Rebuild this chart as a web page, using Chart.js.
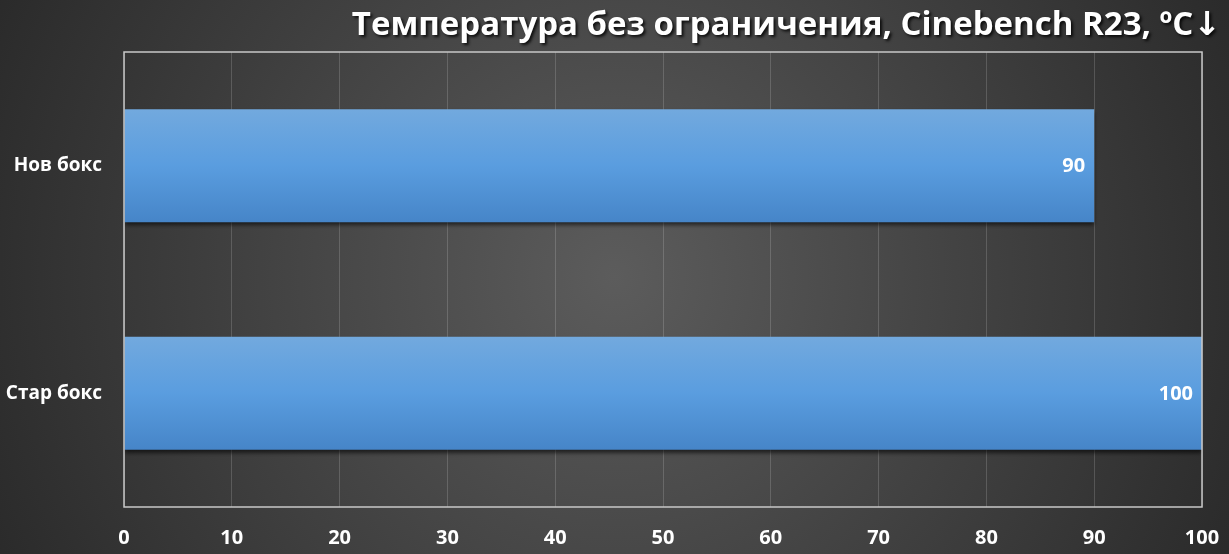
<!DOCTYPE html>
<html><head><meta charset="utf-8">
<script src="https://cdn.jsdelivr.net/npm/chart.js@4.4.0/dist/chart.umd.min.js"></script>
<style>html,body{margin:0;padding:0;background:#2a2a2a;}#wrap{width:1229px;height:554px;}</style>
</head><body><div id="wrap"><canvas id="c" width="1229" height="554"></canvas></div>
<script>
const titleText = "Температура без ограничения, Cinebench R23, ºC↓";
const categories = ["Нов бокс", "Стар бокс"];
const values = [90, 100];
const xMin = 0, xMax = 100, xStep = 10;

const FONT = "'Open Sans', 'DejaVu Sans', sans-serif";
const BAR_PCT = 0.497;

const bgPlugin = {
  id: 'bg',
  beforeDraw(chart) {
    const ctx = chart.ctx, w = chart.width, h = chart.height;
    ctx.save();
    const g = ctx.createRadialGradient(w*0.5, h*0.5, 0, w*0.5, h*0.5, w*0.6);
    g.addColorStop(0, '#5c5c5c');
    g.addColorStop(1, '#262626');
    ctx.fillStyle = g;
    ctx.fillRect(0, 0, w, h);
    ctx.restore();
  },
  beforeDatasetsDraw(chart) {
    const ctx = chart.ctx;
    ctx.save();
    ctx.shadowColor = 'rgba(0,0,0,0.6)';
    ctx.shadowBlur = 4;
    ctx.shadowOffsetY = 3;
  },
  afterDatasetsDraw(chart) {
    const ctx = chart.ctx;
    ctx.restore();
    const a = chart.chartArea;
    ctx.save();
    ctx.strokeStyle = '#c8c8c8';
    ctx.lineWidth = 1.5;
    ctx.strokeRect(a.left, a.top, a.right - a.left, a.bottom - a.top);
    const meta = chart.getDatasetMeta(0);
    ctx.fillStyle = '#ffffff';
    ctx.font = "bold 20px " + FONT;
    ctx.textAlign = 'right';
    ctx.textBaseline = 'middle';
    meta.data.forEach((bar, i) => {
      ctx.fillText(String(values[i]), bar.x - 9, bar.y + 1);
    });
    ctx.font = "bold 33px " + FONT;
    ctx.textAlign = 'right';
    ctx.textBaseline = 'middle';
    ctx.shadowColor = 'rgba(0,0,0,0.8)';
    ctx.shadowBlur = 3;
    ctx.shadowOffsetX = 2;
    ctx.shadowOffsetY = 2;
    ctx.fillText(titleText, 1221, 26);
    ctx.restore();
  }
};

const ctx = document.getElementById('c').getContext('2d');
new Chart(ctx, {
  type: 'bar',
  data: {
    labels: categories,
    datasets: [{
      data: values,
      backgroundColor: (c) => {
        const ch = c.chart;
        const ys = ch.scales && ch.scales.y;
        if (!ch.chartArea || !ys || c.dataIndex === undefined) return '#5b9bd5';
        const cy = ys.getPixelForValue(c.dataIndex);
        const band = (ch.chartArea.bottom - ch.chartArea.top) / categories.length;
        const half = band * BAR_PCT / 2;
        if (!isFinite(cy)) return '#5b9bd5';
        const g = ch.ctx.createLinearGradient(0, cy - half, 0, cy + half);
        g.addColorStop(0, '#72a9de');
        g.addColorStop(0.5, '#5a9ddf');
        g.addColorStop(1, '#4685c8');
        return g;
      },
      borderWidth: 0,
      categoryPercentage: 1,
      barPercentage: BAR_PCT
    }]
  },
  options: {
    indexAxis: 'y',
    responsive: false,
    animation: false,
    devicePixelRatio: 1,
    layout: { padding: { top: 52, right: 27, bottom: 0, left: 0 } },
    plugins: { legend: { display: false }, title: { display: false }, tooltip: { enabled: false } },
    scales: {
      x: {
        min: xMin, max: xMax,
        ticks: { stepSize: xStep, color: '#ffffff', padding: 19, font: { family: FONT, size: 20, weight: 'bold' } },
        grid: { color: 'rgba(255,255,255,0.16)', lineWidth: 1, drawTicks: false },
        border: { display: false },
        afterFit(s) { s.height = 47; s.paddingRight = 0; s.paddingLeft = 0; }
      },
      y: {
        ticks: { color: '#ffffff', padding: 22, font: { family: FONT, size: 19, weight: 'bold' } },
        grid: { display: false, drawTicks: false },
        border: { display: false },
        afterFit(s) { s.width = 124; }
      }
    }
  },
  plugins: [bgPlugin]
});
</script>
</body></html>
